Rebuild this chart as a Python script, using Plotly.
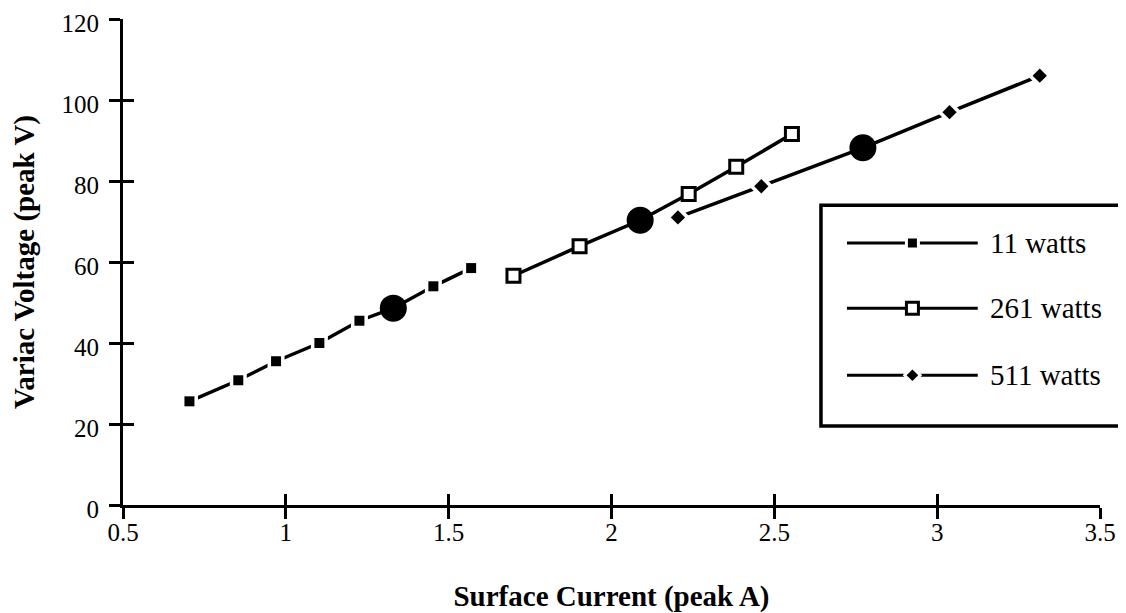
import plotly.graph_objects as go

# ---- data ----
x_11 = [0.704, 0.854, 0.970, 1.103, 1.226, 1.453, 1.569]
y_11 = [25.6, 30.8, 35.5, 40.0, 45.5, 54.0, 58.5]

x_261 = [1.699, 1.902, 2.237, 2.383, 2.554]
y_261 = [56.6, 63.9, 76.8, 83.5, 91.6]

x_511 = [2.204, 2.460, 3.038, 3.315]
y_511 = [71.0, 78.7, 97.0, 106.0]

# large filled circles (one per series)
x_big = [1.330, 2.088, 2.772]
y_big = [48.6, 70.3, 88.2]

series_names = ["11 watts", "261 watts", "511 watts"]
x_ticks = [0.5, 1, 1.5, 2, 2.5, 3, 3.5]
x_tick_labels = ["0.5", "1", "1.5", "2", "2.5", "3", "3.5"]
y_ticks = [0, 20, 40, 60, 80, 100, 120]

FONT = "Liberation Serif"
BLACK = "#000000"
LW = 3.5

fig = go.Figure()

# 11 watts: line, white gap under marker, black square
x_11_line = x_11[:5] + [x_big[0]] + x_11[5:]
y_11_line = y_11[:5] + [y_big[0]] + y_11[5:]
fig.add_trace(go.Scatter(x=x_11_line, y=y_11_line, mode="lines",
                         line=dict(color=BLACK, width=LW), showlegend=False))
fig.add_trace(go.Scatter(x=x_11, y=y_11, mode="markers",
                         marker=dict(symbol="square", size=17, color="white"),
                         showlegend=False, hoverinfo="skip"))
fig.add_trace(go.Scatter(x=x_11, y=y_11, mode="markers", name=series_names[0],
                         marker=dict(symbol="square", size=10, color=BLACK),
                         showlegend=False))

# 261 watts: solid line, open squares
x_261_line = x_261[:2] + [x_big[1]] + x_261[2:]
y_261_line = y_261[:2] + [y_big[1]] + y_261[2:]
fig.add_trace(go.Scatter(x=x_261_line, y=y_261_line, mode="lines",
                         line=dict(color=BLACK, width=LW), showlegend=False))
fig.add_trace(go.Scatter(x=x_261, y=y_261, mode="markers", name=series_names[1],
                         marker=dict(symbol="square", size=13, color="white",
                                     line=dict(color=BLACK, width=3)),
                         showlegend=False))

# 511 watts: line, gaps, diamonds
x_511_line = x_511[:2] + [x_big[2]] + x_511[2:]
y_511_line = y_511[:2] + [y_big[2]] + y_511[2:]
fig.add_trace(go.Scatter(x=x_511_line, y=y_511_line, mode="lines",
                         line=dict(color=BLACK, width=LW), showlegend=False))
fig.add_trace(go.Scatter(x=x_511, y=y_511, mode="markers",
                         marker=dict(symbol="diamond", size=19, color="white"),
                         showlegend=False, hoverinfo="skip"))
fig.add_trace(go.Scatter(x=x_511, y=y_511, mode="markers", name=series_names[2],
                         marker=dict(symbol="diamond", size=11, color=BLACK),
                         showlegend=False))

# large circles
fig.add_trace(go.Scatter(x=x_big, y=y_big, mode="markers",
                         marker=dict(symbol="circle", size=27, color=BLACK),
                         showlegend=False))

# overlay axis for crossing ticks (inside half)
fig.add_trace(go.Scatter(x=[None], y=[None], xaxis="x3", yaxis="y3",
                         showlegend=False, hoverinfo="skip"))

# ---- custom legend (on its own 0..1 axes) ----
leg_y = [0.539, 0.405, 0.267]
leg_sym = [dict(symbol="square", size=9, color=BLACK),
           dict(symbol="square", size=12, color="white", line=dict(color=BLACK, width=3)),
           dict(symbol="diamond", size=9, color=BLACK)]
leg_gap = [15, 0, 15]
for i in range(3):
    fig.add_trace(go.Scatter(x=[0, 1], y=[leg_y[i], leg_y[i]], mode="lines",
                             line=dict(color=BLACK, width=3), xaxis="x2", yaxis="y2",
                             showlegend=False, hoverinfo="skip"))
    if leg_gap[i]:
        fig.add_trace(go.Scatter(x=[0.5], y=[leg_y[i]], mode="markers",
                                 marker=dict(symbol=leg_sym[i]["symbol"], size=leg_gap[i], color="white"),
                                 xaxis="x2", yaxis="y2", showlegend=False, hoverinfo="skip"))
    fig.add_trace(go.Scatter(x=[0.5], y=[leg_y[i]], mode="markers", marker=leg_sym[i],
                             xaxis="x2", yaxis="y2", showlegend=False, hoverinfo="skip"))
    fig.add_annotation(x=0.885, y=leg_y[i], xref="paper", yref="paper",
                       text=series_names[i], showarrow=False, xanchor="left", yanchor="middle",
                       font=dict(family=FONT, size=29, color=BLACK))

fig.add_shape(type="rect", xref="paper", yref="paper",
              x0=0.7144, x1=1.0215, y0=0.1626, y1=0.617,
              line=dict(color=BLACK, width=3.5), fillcolor="rgba(0,0,0,0)", layer="above")

axis_common = dict(showgrid=False, zeroline=False, showline=True, linecolor=BLACK,
                   linewidth=3, tickcolor=BLACK, tickwidth=2.5, ticklen=11,
                   automargin=False)

# page body adds an 8px offset; figure sized so the plot area lands where the reference has it
fig.update_layout(
    width=1118, height=605,
    margin=dict(l=115, r=26, t=11, b=108),
    paper_bgcolor="white", plot_bgcolor="rgba(0,0,0,0)",
    showlegend=False,
    font=dict(family=FONT, color=BLACK),
    xaxis=dict(range=[0.5, 3.5], tickvals=x_ticks, ticktext=x_tick_labels,
               ticks="outside", tickfont=dict(family=FONT, size=25), ticklabelstandoff=-8,
               ticklabeloverflow="allow",
               title=dict(text="<b>Surface Current (peak A)</b>",
                          font=dict(family=FONT, size=29), standoff=44),
               **axis_common),
    yaxis=dict(range=[0, 120], tickvals=y_ticks, ticks="outside",
               tickfont=dict(family=FONT, size=25), ticklabelstandoff=5,
               ticklabelshift=4, ticklabeloverflow="allow",
               title=dict(text="<b>Variac Voltage (peak V)</b>",
                          font=dict(family=FONT, size=29), standoff=21),
               **axis_common),
    xaxis3=dict(range=[0.5, 3.5], tickvals=x_ticks, ticks="inside", showticklabels=False,
                overlaying="x", anchor="y3", side="bottom", **axis_common),
    yaxis3=dict(range=[0, 120], tickvals=y_ticks, ticks="inside", showticklabels=False,
                overlaying="y", anchor="x3", side="left", **axis_common),
    xaxis2=dict(domain=[0.741, 0.875], range=[0, 1], visible=False, anchor="y2"),
    yaxis2=dict(domain=[0, 1], range=[0, 1], visible=False, anchor="x2"),
)

fig.write_html("out.html")
